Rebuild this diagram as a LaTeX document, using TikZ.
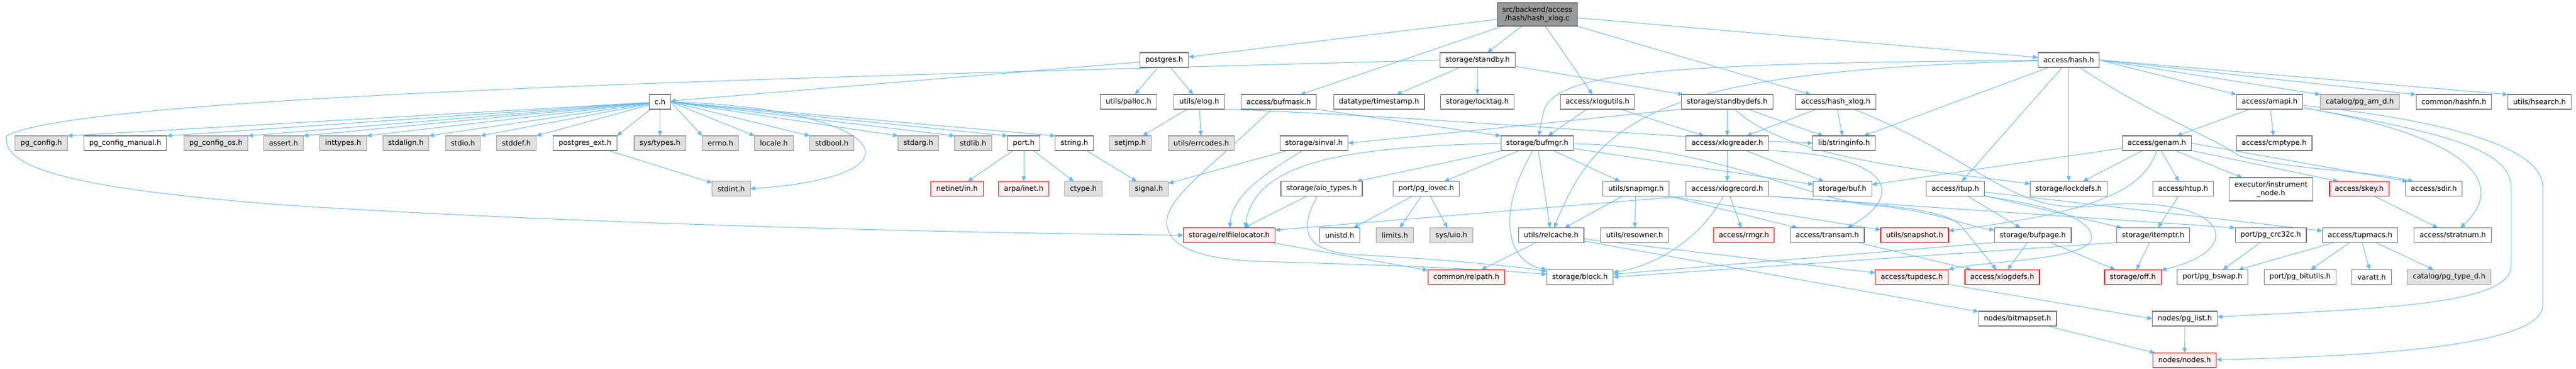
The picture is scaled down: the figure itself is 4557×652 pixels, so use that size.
\documentclass[tikz,border=0pt]{standalone}
\usepackage{fontspec}
\setmainfont{DejaVu Sans}
\usepackage{tikz}
\usetikzlibrary{arrows.meta,calc,positioning}
\definecolor{edgeblue}{HTML}{63B8FF}
\definecolor{truncfill}{HTML}{FFF0F0}
\pgfdeclarelayer{wires}
\pgfsetlayers{wires,main}
\tikzset{
	include graph/.style={
		x=1pt, y=-1pt,
		every node/.style={font=\fontsize{12.7}{15.5}\selectfont, inner xsep=9.5pt, inner ysep=0pt,
			minimum height=26pt, outer sep=0pt, line width=1.1pt},
		ar/.style={draw=edgeblue, line width=1pt, -{Triangle[length=9pt,width=7.5pt]}},
		},
	hdr/.style={draw=black!55, fill=white},
	sys/.style={draw=black!38, fill=black!12},
	trunc/.style={draw=red, fill=truncfill},
	root/.style={draw=black!60, fill=black!40, align=center, minimum height=41pt},
	twoline/.style={hdr, align=center, minimum height=41pt}
}

\begin{document}
\begin{tikzpicture}[include graph]
	\useasboundingbox (0,0) rectangle (4557,652);
	% row 0 and 1
	\node[root] (src) at (2719.5,25.5) {src/backend/access\\/hash/hash\_xlog.c};
	\node[hdr] (postgres) at (2059.5,106) {postgres.h};
	\node[hdr] (standby) at (2614,106) {storage/standby.h};
	\node[hdr] (hash) at (3659.5,106) {access/hash.h};
	% row 2
	\node[hdr] (ch) at (1167.5,180) {c.h};
	\node[hdr] (palloc) at (1996.5,180) {utils/palloc.h};
	\node[hdr] (elog) at (2121.5,180) {utils/elog.h};
	\node[hdr] (bufmask) at (2262,180) {access/bufmask.h};
	\node[hdr] (timestamp) at (2439.5,180) {datatype/timestamp.h};
	\node[hdr] (locktag) at (2613.5,180) {storage/locktag.h};
	\node[hdr] (xlogutils) at (2826,180) {access/xlogutils.h};
	\node[hdr] (standbydefs) at (3055.5,180) {storage/standbydefs.h};
	\node[hdr] (hashxlog) at (3247.5,180) {access/hash\_xlog.h};
	\node[hdr] (amapi) at (4015,180) {access/amapi.h};
	\node[sys] (pgamd) at (4174.5,180) {catalog/pg\_am\_d.h};
	\node[hdr] (hashfn) at (4341,180) {common/hashfn.h};
	\node[hdr] (hsearch) at (4492.5,180) {utils/hsearch.h};
	% row 3
	\node[sys] (pgconfig) at (73,253) {pg\_config.h};
	\node[hdr] (pgconfigmanual) at (221.5,253) {pg\_config\_manual.h};
	\node[sys] (pgconfigos) at (382,253) {pg\_config\_os.h};
	\node[sys] (assert) at (501.5,253) {assert.h};
	\node[sys] (inttypes) at (607,253) {inttypes.h};
	\node[sys] (stdalign) at (718,253) {stdalign.h};
	\node[sys] (stdio) at (819,253) {stdio.h};
	\node[sys] (stddef) at (913.5,253) {stddef.h};
	\node[hdr] (postgresext) at (1035,253) {postgres\_ext.h};
	\node[sys] (systypes) at (1167.5,253) {sys/types.h};
	\node[sys] (errno) at (1274.5,253) {errno.h};
	\node[sys] (locale) at (1369,253) {locale.h};
	\node[sys] (stdbool) at (1471.5,253) {stdbool.h};
	\node[sys] (stdarg) at (1624.5,253) {stdarg.h};
	\node[sys] (stdlib) at (1721.5,253) {stdlib.h};
	\node[hdr] (port) at (1811,253) {port.h};
	\node[hdr] (string) at (1900.5,253) {string.h};
	\node[sys] (setjmp) at (1999.5,253) {setjmp.h};
	\node[sys] (errcodes) at (2125,253) {utils/errcodes.h};
	\node[hdr] (sinval) at (2324.5,253) {storage/sinval.h};
	\node[hdr] (bufmgr) at (2719.5,253) {storage/bufmgr.h};
	\node[hdr] (xlogreader) at (3055.5,253) {access/xlogreader.h};
	\node[hdr] (stringinfo) at (3262,253) {lib/stringinfo.h};
	\node[hdr] (genam) at (3815.5,253) {access/genam.h};
	\node[hdr] (cmptype) at (4023,253) {access/cmptype.h};
	% row 4
	\node[sys] (stdint) at (1293.5,333.5) {stdint.h};
	\node[trunc] (netinet) at (1693,333.5) {netinet/in.h};
	\node[trunc] (arpainet) at (1811,333.5) {arpa/inet.h};
	\node[sys] (ctype) at (1916.5,333.5) {ctype.h};
	\node[sys] (signal) at (2032.5,333.5) {signal.h};
	\node[hdr] (aiotypes) at (2338,333.5) {storage/aio\_types.h};
	\node[hdr] (pgiovec) at (2523,333.5) {port/pg\_iovec.h};
	\node[hdr] (snapmgr) at (2894,333.5) {utils/snapmgr.h};
	\node[hdr] (xlogrecord) at (3055.5,333.5) {access/xlogrecord.h};
	\node[hdr] (buf) at (3259.5,333.5) {storage/buf.h};
	\node[hdr] (itup) at (3459,333.5) {access/itup.h};
	\node[hdr] (lockdefs) at (3659.5,333.5) {storage/lockdefs.h};
	\node[hdr] (htup) at (3862,333.5) {access/htup.h};
	\node[twoline] (instrument) at (4017.5,334.5) {executor/instrument\\\_node.h};
	\node[trunc] (skey) at (4173.5,333.5) {access/skey.h};
	\node[hdr] (sdir) at (4305.5,333.5) {access/sdir.h};
	% row 5
	\node[trunc] (relfilelocator) at (2174.5,415.5) {storage/relfilelocator.h};
	\node[hdr] (unistd) at (2370,415.5) {unistd.h};
	\node[sys] (limits) at (2467.5,415.5) {limits.h};
	\node[sys] (sysuio) at (2567.5,415.5) {sys/uio.h};
	\node[hdr] (relcache) at (2744,415.5) {utils/relcache.h};
	\node[hdr] (resowner) at (2891.5,415.5) {utils/resowner.h};
	\node[trunc] (rmgr) at (3085,415.5) {access/rmgr.h};
	\node[hdr] (transam) at (3232.5,415.5) {access/transam.h};
	\node[trunc] (snapshot) at (3387,415.5) {utils/snapshot.h};
	\node[hdr] (bufpage) at (3596,415.5) {storage/bufpage.h};
	\node[hdr] (itemptr) at (3809,415.5) {storage/itemptr.h};
	\node[hdr] (pgcrc) at (4017,415.5) {port/pg\_crc32c.h};
	\node[hdr] (tupmacs) at (4175,415.5) {access/tupmacs.h};
	\node[hdr] (stratnum) at (4339,415.5) {access/stratnum.h};
	% row 6
	\node[trunc] (relpath) at (2594,489.5) {common/relpath.h};
	\node[hdr] (block) at (2795,489.5) {storage/block.h};
	\node[trunc] (tupdesc) at (3382,489.5) {access/tupdesc.h};
	\node[trunc] (xlogdefs) at (3542,489.5) {access/xlogdefs.h};
	\node[trunc] (off) at (3773,489.5) {storage/off.h};
	\node[hdr] (pgbswap) at (3914,489.5) {port/pg\_bswap.h};
	\node[hdr] (pgbitutils) at (4069,489.5) {port/pg\_bitutils.h};
	\node[hdr] (varatt) at (4195.5,489.5) {varatt.h};
	\node[sys] (pgtyped) at (4332.5,489.5) {catalog/pg\_type\_d.h};
	% rows 7 and 8
	\node[hdr] (bitmapset) at (3569,563) {nodes/bitmapset.h};
	\node[hdr] (pglist) at (3865,563) {nodes/pg\_list.h};
	\node[trunc] (nodes) at (3864.5,636.5) {nodes/nodes.h};

	\begin{pgfonlayer}{wires}
	% straight includes
	\foreach \t in {postgres,bufmask,standby,xlogutils,hashxlog,hash} \draw[ar] (src) -- (\t);
	\foreach \t in {ch,palloc,elog} \draw[ar] (postgres) -- (\t);
	\foreach \t in {pgconfig,pgconfigmanual,pgconfigos,assert,inttypes,stdalign,stdio,stddef,postgresext}
		\draw[ar] (ch) -- (\t.north east);
	\draw[ar] (ch) -- (systypes);
	\foreach \t in {errno,locale,stdbool,stdarg,stdlib,port,string} \draw[ar] (ch.east) -- (\t.north west);
	\draw[ar] (postgresext) -- (stdint);
	\foreach \t in {netinet,arpainet,ctype} \draw[ar] (port) -- (\t);
	\draw[ar] (string) -- (signal);
	\foreach \t in {setjmp,errcodes} \draw[ar] (elog) -- (\t);
	\draw[ar] (bufmask.south east) -- (bufmgr.north west);
	\foreach \t in {timestamp,locktag,standbydefs} \draw[ar] (standby) -- (\t);
	\foreach \t in {bufmgr,xlogreader} \draw[ar] (xlogutils) -- (\t);
	\draw[ar] (standbydefs.south west) -- (sinval.east);
	\foreach \t in {xlogreader,stringinfo} \draw[ar] (standbydefs) -- (\t);
	\foreach \t in {xlogreader,stringinfo} \draw[ar] (hashxlog) -- (\t);
	\foreach \t in {stringinfo,itup,lockdefs} \draw[ar] (hash) -- (\t);
	\foreach \t in {amapi,pgamd,hashfn,hsearch} \draw[ar] (hash.east) -- (\t.north west);
	\foreach \t in {genam,cmptype} \draw[ar] (amapi) -- (\t);
	\draw[ar] (sinval) -- (signal);
	\foreach \t in {aiotypes,pgiovec,relcache,snapmgr,buf} \draw[ar] (bufmgr) -- (\t);
	\foreach \t in {xlogrecord,buf} \draw[ar] (xlogreader) -- (\t);
	\foreach \t in {buf,lockdefs,htup,instrument} \draw[ar] (genam) -- (\t);
	\draw[ar] (genam.south east) -- ([xshift=16pt]skey.north west);
	\draw[ar] (genam.east) -- ([xshift=4pt]sdir.north west);
	\draw[ar] (aiotypes) -- (relfilelocator);
	\foreach \t in {unistd,limits,sysuio} \draw[ar] (pgiovec) -- (\t);
	\draw[ar] (snapmgr) -- (relcache);
	\draw[ar] (snapmgr) -- (resowner);
	\foreach \t in {transam,snapshot} \draw[ar] (snapmgr.south east) -- (\t);
	\draw[ar] (xlogrecord.south west) -- ([yshift=9pt]relfilelocator.east);
	\draw[ar] (xlogrecord) -- (rmgr);
	\draw[ar] (xlogrecord.south east) -- (pgcrc.north west);
	\foreach \t in {bufpage,itemptr,tupmacs} \draw[ar] (itup) -- (\t);
	\draw[ar] (htup) -- (itemptr);
	\draw[ar] (skey) -- (stratnum);
	\draw[ar] (relfilelocator) -- (relpath);
	\foreach \t in {relpath,tupdesc,bitmapset} \draw[ar] (relcache) -- (\t);
	\draw[ar] (transam) -- (xlogdefs);
	\draw[ar] (bufpage.south west) -- ([yshift=5pt]block.east);
	\foreach \t in {xlogdefs,off} \draw[ar] (bufpage) -- (\t);
	\draw[ar] (itemptr.south west) -- (block.east);
	\draw[ar] (itemptr) -- (off);
	\draw[ar] (pgcrc) -- (pgbswap);
	\foreach \t in {pgbswap,pgbitutils,varatt,pgtyped} \draw[ar] (tupmacs) -- (\t);
	\draw[ar] (tupdesc.south east) -- (pglist.west);
	\draw[ar] (bitmapset) -- (nodes);
	\draw[ar] (pglist) -- (nodes);

	% bent includes
	\draw[ar] (standby.west) .. controls (1500,135) and (150,165) .. (12,240)
		.. controls (0,300) and (150,335) .. (500,362)
		.. controls (1000,395) and (1700,412) .. (relfilelocator.west);
	\draw[ar] (ch.east) .. controls (1560,190) and (1660,310) .. (stdint.east);
	\draw[ar] (bufmask) .. controls (2150,290) and (2060,350) .. (2064,395)
		.. controls (2068,440) and (2130,458) .. (2230,462)
		.. controls (2450,468) and (2620,475) .. (block);
	\draw[ar] (hash) .. controls (2950,112) and (2745,125) .. (2730,200) -- (bufmgr);
	\draw[ar] (hash) .. controls (2950,125) and (2830,200) .. (relcache);
	\draw[ar] (hashxlog) .. controls (3520,290) and (3560,385) .. (3720,362)
		.. controls (3940,345) and (3980,440) .. (off);
	\draw[ar] (hash) .. controls (3800,200) and (3920,245) .. (3960,275)
		.. controls (4050,300) and (4180,300) .. ([xshift=14pt]sdir.north west);
	\draw[ar] (amapi) .. controls (4360,240) and (4440,320) .. (stratnum);
	\draw[ar] (amapi) .. controls (4300,230) and (4442,260) .. (4442,330) -- (4442,470)
		.. controls (4442,540) and (4200,545) .. (pglist);
	\draw[ar] (amapi) .. controls (4350,215) and (4498,265) .. (4498,330) -- (4498,540)
		.. controls (4498,610) and (4200,630) .. (nodes);
	\draw[ar] (genam.south) .. controls (3790,340) and (3700,375) .. (snapshot);
	\draw[ar] (itup.south east) .. controls (3600,360) and (3700,380) .. (3700,420)
		.. controls (3700,460) and (3500,462) .. (tupdesc.north east);
	\draw[ar] (sinval) .. controls (2250,300) and (2180,340) .. (relfilelocator);
	\draw[ar] (bufmgr.west) .. controls (2400,260) and (2220,280) .. ([xshift=28pt]relfilelocator.north);
	\draw[ar] (bufmgr) .. controls (2650,370) and (2660,460) .. (block);
	\draw[ar] (aiotypes) .. controls (2300,400) and (2300,445) .. (2400,450)
		.. controls (2550,458) and (2680,470) .. (block);
	\draw[ar] (xlogrecord) .. controls (3010,420) and (2930,470) .. (block);
	\draw[ar] (xlogreader.south east) .. controls (3350,275) and (3370,345) .. ([xshift=-30pt]transam.north east);
	\draw[ar] (elog.south east) .. controls (2500,205) and (2900,240) .. (stringinfo.west);
	\draw[ar] (standbydefs) .. controls (3160,280) and (3400,300) .. (lockdefs);
	\draw[ar] (bufmgr) .. controls (3020,258) and (3170,340) .. (3300,362)
		.. controls (3420,370) and (3480,400) .. (bufpage);
	\draw[ar] (xlogrecord.south east) .. controls (3300,360) and (3440,365) .. (3470,400) -- (xlogdefs);
	\end{pgfonlayer}
\end{tikzpicture}
\end{document}
